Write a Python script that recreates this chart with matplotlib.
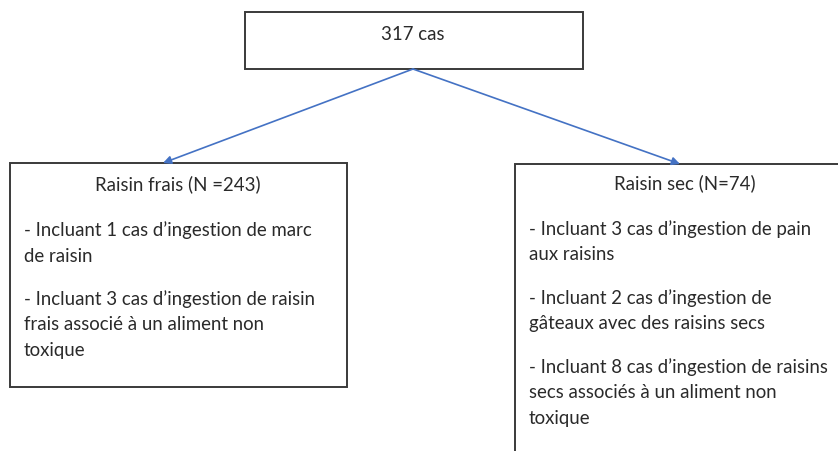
import matplotlib.pyplot as plt
from matplotlib.patches import Rectangle

plt.rcParams['font.family'] = ['Lato', 'DejaVu Sans']

top_label = '317 cas'
left_title = 'Raisin frais (N =243)'
left_lines = ['- Incluant 1 cas d\u2019ingestion de marc', 'de raisin', None,
              '- Incluant 3 cas d\u2019ingestion de raisin',
              'frais associ\u00e9 \u00e0 un aliment non', 'toxique']
right_title = 'Raisin sec (N=74)'
right_lines = ['- Incluant 3 cas d\u2019ingestion de pain', 'aux raisins', None,
               '- Incluant 2 cas d\u2019ingestion de',
               'g\u00e2teaux avec des raisins secs', None,
               '- Incluant 8 cas d\u2019ingestion de raisins',
               'secs associ\u00e9s \u00e0 un aliment non', 'toxique']

W, H = 838, 452
fig = plt.figure(figsize=(W / 100, H / 100), dpi=100)
ax = fig.add_axes([0, 0, 1, 1])
ax.set_xlim(0, W)
ax.set_ylim(H, 0)
ax.axis('off')

box_kw = dict(facecolor='white', edgecolor='#3a3a3a', linewidth=1.4)
ax.add_patch(Rectangle((245, 13), 338, 57, **box_kw))
ax.add_patch(Rectangle((10, 164), 337, 224, **box_kw))
ax.add_patch(Rectangle((515, 165), 340, 300, **box_kw))

arrow_kw = dict(arrowstyle='-|>', color='#4472C4', lw=1.2, mutation_scale=12,
                shrinkA=0, shrinkB=0)
ax.annotate('', xy=(163, 164), xytext=(413, 70), arrowprops=arrow_kw)
ax.annotate('', xy=(680, 165), xytext=(413, 70), arrowprops=arrow_kw)

fs = 13.4
col = '#2a2a2a'
ax.text(413, 35, top_label, ha='center', va='center', fontsize=fs, color=col)


def block(x, y0, title, tx, lines):
    ax.text(tx, y0, title, ha='center', va='center', fontsize=fs, color=col)
    y = y0 + 46
    for ln in lines:
        if ln is None:
            y += 17
            continue
        ax.text(x, y, ln, ha='left', va='center', fontsize=fs, color=col)
        y += 26


block(24, 184, left_title, 178, left_lines)
block(529, 183, right_title, 685, right_lines)

fig.savefig('out.png', dpi=100)
